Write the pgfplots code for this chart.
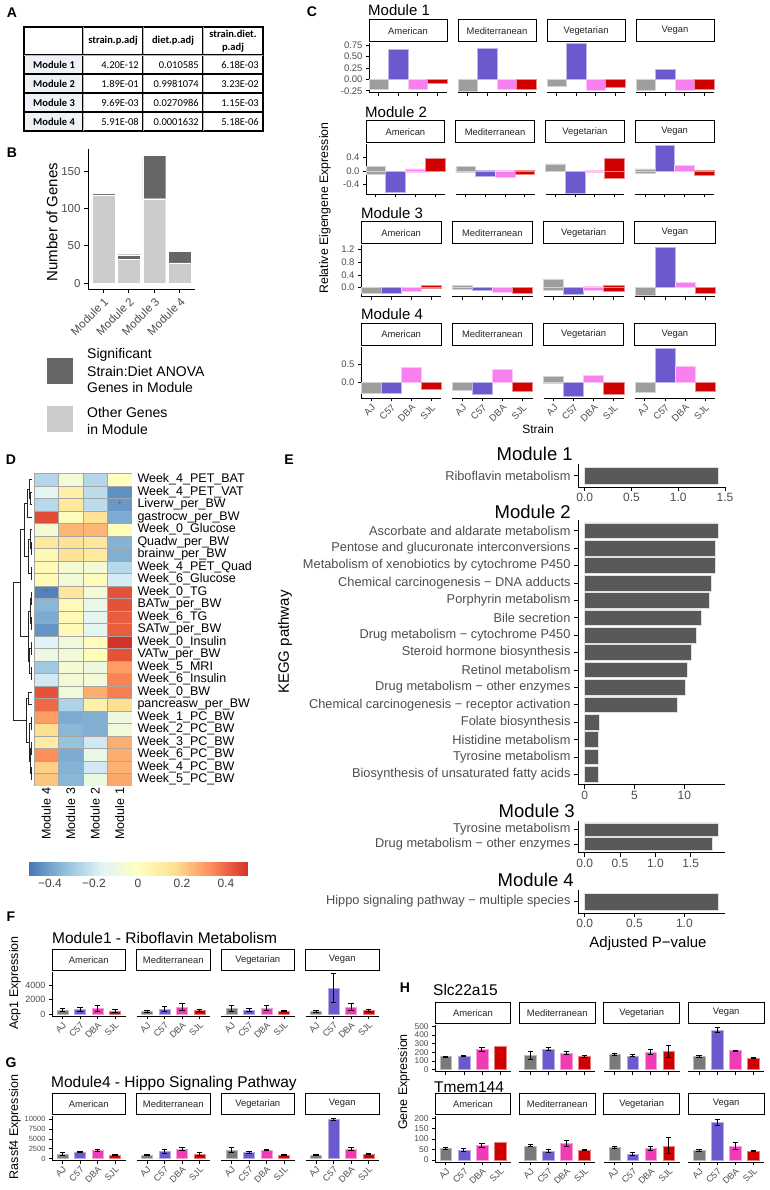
\documentclass[border=0pt]{standalone}
\usepackage{pgfplots}
\pgfplotsset{compat=1.18}
\usepackage{fontspec}
\setmainfont{Liberation Sans}
\newfontfamily\tabfont{Carlito}
\newcommand\fs[1]{\fontsize{#1}{#1}\selectfont}
\definecolor{cAJ}{HTML}{9E9E9E}
\definecolor{cC}{HTML}{6A5ACD}
\definecolor{cD}{HTML}{F77FEE}
\definecolor{cS}{HTML}{D00000}
\definecolor{fAJ}{HTML}{7A7A7A}
\definecolor{fD}{HTML}{F03CB4}
\definecolor{tickc}{HTML}{4D4D4D}
\definecolor{barE}{HTML}{595959}
\definecolor{lgray}{HTML}{CCCCCC}
\definecolor{dgray}{HTML}{666666}
\definecolor{tabbg}{HTML}{EEF1F5}

\pgfplotsset{
  every axis/.append style={scale only axis, scaled ticks=false},
  base/.style={axis line style={line width=0.8pt, black}, tick style={line width=0.7pt, black},
    tick align=outside, major tick length=3pt, axis x line*=bottom, axis y line*=left,
    every tick label/.append style={text=tickc, inner sep=0.8pt},
    y tick label style={xshift=-2.5pt}, x tick label style={yshift=-1.5pt}, clip=false},
  strip/.style={title style={draw=black, line width=0.8pt, fill=white, minimum width=#1,
    minimum height=21.5pt, inner sep=0pt, anchor=south, at={(0.5,1)}, yshift=-4.8pt,
    font=\fs{9.4}, text=black!85}},
  noy/.style={axis y line=none, ytick=\empty},
  cfac/.style={base, anchor=north west, xmin=0.5, xmax=4.5, xtick={1,2,3,4}, xticklabels={},
    every tick label/.append style={font=\fs{9.5}}},
  xlab/.style={xticklabels={AJ,C57,DBA,SJL}, x tick label style={rotate=45, anchor=north east, inner sep=0.5pt}},
  cb/.style={ybar, bar width=1, bar shift=0pt, fill=#1, draw=#1!45!white, line width=0.5pt},
  efac/.style={base, anchor=north west, xmin=0.4, xmax=4.6, xtick={1,2,3,4}, xticklabels={},
    every tick label/.append style={font=\fs{9}}},
  eb/.style={ybar, bar width=0.65, bar shift=0pt, fill=#1, draw=#1!50!white, line width=0.4pt,
    error bars/y dir=both, error bars/y explicit,
    error bars/error bar style={black, line width=0.9pt},
    error bars/error mark options={rotate=90, black, mark size=2.6pt, line width=0.9pt}},
  nb/.style={ybar, bar width=0.65, bar shift=0pt, fill=#1, draw=#1!50!white, line width=0.4pt},
  kegg/.style={base, anchor=north west, width=147pt, major tick length=4pt,
    y tick label style={font=\fs{12.8}}, x tick label style={font=\fs{12}}},
  kb/.style={xbar, bar width=0.9, bar shift=0pt, fill=barE, draw=black!12, line width=0.5pt},
  m1/.style={cfac, width=78pt, height=49.7pt, ymin=-0.293, ymax=0.80, strip=78pt},
  m1y/.style={ytick={-0.25,0,0.25,0.5,0.75}, yticklabels={-0.25,0.00,0.25,0.50,0.75}},
  m2/.style={cfac, width=78.75pt, height=50pt, ymin=-0.68, ymax=0.80, strip=78.75pt},
  m2y/.style={ytick={-0.4,0,0.4}, yticklabels={-0.4,0.0,0.4}},
  m3/.style={cfac, width=80.25pt, height=51.7pt, ymin=-0.28, ymax=1.33, strip=80.25pt},
  m3y/.style={ytick={0,0.4,0.8,1.2}, yticklabels={0.0,0.4,0.8,1.2}},
  m4/.style={cfac, width=80.25pt, height=51.6pt, ymin=-0.425, ymax=0.98, strip=80.25pt, xlab},
  m4y/.style={ytick={0,0.5}, yticklabels={0.0,0.5}},
  fst/.style={efac, width=73.5pt, height=44pt, ymin=-277, ymax=5827, strip=73.5pt, xlab},
  fy/.style={ytick={0,2000,4000}, yticklabels={0,2000,4000}},
  gst/.style={efac, width=73.5pt, height=44.5pt, ymin=-515, ymax=10815, strip=73.5pt, xlab},
  gy/.style={ytick={0,2500,5000,7500,10000}, yticklabels={0,2500,5000,7500,10000}, y tick label style={font=\fs{7.5}}},
  h1st/.style={efac, width=75.75pt, height=46.7pt, ymin=-25, ymax=515, strip=75.75pt},
  h1y/.style={ytick={0,100,200,300,400,500}, yticklabels={0,100,200,300,400,500}, y tick label style={font=\fs{8.3}}},
  h2st/.style={efac, width=75.75pt, height=46pt, ymin=-9.75, ymax=210, strip=75.75pt, xlab},
  h2y/.style={ytick={0,50,100,150,200}, yticklabels={0,50,100,150,200}, y tick label style={font=\fs{8.5}}},
}

\begin{document}
\begin{tikzpicture}[x=1pt,y=1pt]
\useasboundingbox (0,0) rectangle (769,-1190);

% ---------- panel letters ----------
\begin{scope}[every node/.style={font=\bfseries\fs{14}}]
\node at (12,-13) {A};
\node at (12,-153) {B};
\node at (312,-12) {C};
\node at (11,-460) {D};
\node at (289,-460) {E};
\node at (11,-917) {F};
\node at (11,-1063) {G};
\node at (405,-988) {H};
\end{scope}

% ---------- A: table ----------
\fill[tabbg] (24,-55) rectangle (83,-131);
\draw[line width=1.8pt] (24,-27) rectangle (263,-131);
\foreach \x in {83,143,203}{\draw[line width=1.8pt] (\x,-27) -- (\x,-131);
  \draw[gray!55,line width=0.5pt] (\x,-27) -- (\x,-131);}
\foreach \y in {55,74,93,112}{\draw[line width=1.4pt] (24,-\y) -- (263,-\y);}
\draw[gray!55, line width=0.5pt] (24,-55) -- (263,-55);
\begin{scope}[every node/.style={font=\tabfont\fs{10.5}, inner sep=0pt}]
\node[font=\tabfont\bfseries\fs{10.5}] at (113,-41) {strain.p.adj};
\node[font=\tabfont\bfseries\fs{10.5}] at (173,-41) {diet.p.adj};
\node[font=\tabfont\bfseries\fontsize{10.5}{12.5}\selectfont, align=center] at (233,-41) {strain.diet.\\p.adj};
\node[font=\tabfont\bfseries\fs{10.5}] at (54,-65) {Module 1};
\node[font=\tabfont\bfseries\fs{10.5}] at (54,-84) {Module 2};
\node[font=\tabfont\bfseries\fs{10.5}] at (54,-103) {Module 3};
\node[font=\tabfont\bfseries\fs{10.5}] at (54,-122) {Module 4};
\node[anchor=east] at (139,-65) {4.20E-12};
\node[anchor=east] at (199,-65) {0.010585};
\node[anchor=east] at (259,-65) {6.18E-03};
\node[anchor=east] at (139,-84) {1.89E-01};
\node[anchor=east] at (199,-84) {0.9981074};
\node[anchor=east] at (259,-84) {3.23E-02};
\node[anchor=east] at (139,-103) {9.69E-03};
\node[anchor=east] at (199,-103) {0.0270986};
\node[anchor=east] at (259,-103) {1.15E-03};
\node[anchor=east] at (139,-122) {5.91E-08};
\node[anchor=east] at (199,-122) {0.0001632};
\node[anchor=east] at (259,-122) {5.18E-06};
\end{scope}

% ---------- B ----------
\begin{axis}[base, at={(88pt,-149pt)}, anchor=north west, width=107pt, height=140.5pt,
  xmin=0.4, xmax=4.6, ymin=-8.55, ymax=179.6, ybar stacked, bar width=0.9,
  xtick={1,2,3,4}, xticklabels={Module 1,Module 2,Module 3,Module 4},
  x tick label style={rotate=45, anchor=north east, font=\fs{11.5}, inner sep=1pt},
  ytick={0,50,100,150}, yticklabels={0,50,100,150}, y tick label style={font=\fs{11.5}},
  major tick length=4pt, ylabel={Number of Genes},
  every axis y label/.style={at={(axis description cs:-0.336,0.48)}, rotate=90, anchor=center, font=\fs{15}}]
\addplot[fill=lgray, draw=white, line width=0.4pt] coordinates {(1,118) (2,32) (3,113) (4,27)};
\addplot[fill=dgray, draw=white, line width=0.4pt] coordinates {(1,2) (2,6) (3,58) (4,16)};
\end{axis}
\fill[dgray] (47,-358) rectangle (73,-384);
\fill[lgray] (47,-406) rectangle (73,-432);
\begin{scope}[every node/.style={anchor=west, inner sep=0pt, font=\fs{14}}]
\node at (87,-354.5) {Significant};
\node at (87,-371) {Strain:Diet ANOVA};
\node at (87,-387.5) {Genes in Module};
\node at (87,-412) {Other Genes};
\node at (87,-429) {in Module};
\end{scope}

% ---------- C ----------
\begin{scope}[every node/.style={anchor=west, inner sep=0pt, font=\fs{15}}]
\node at (368,-10) {Module 1};
\node at (365,-112) {Module 2};
\node at (361,-213) {Module 3};
\node at (361,-314) {Module 4};
\end{scope}
\node[rotate=90, font=\fs{12.3}] at (325,-208) {Relative Eigengene Expression};
\node[font=\fs{12}] at (538,-429) {Strain};

% Module 1
\begin{axis}[m1, m1y, at={(369pt,-43pt)}, title={American}]
\addplot[cb=cAJ] coordinates {(1,-0.22)};
\addplot[cb=cC] coordinates {(2,0.66)};
\addplot[cb=cD] coordinates {(3,-0.22)};
\addplot[cb=cS] coordinates {(4,-0.09)};
\end{axis}
\begin{axis}[m1, noy, at={(458pt,-43pt)}, title={Mediterranean}]
\addplot[cb=cAJ] coordinates {(1,-0.27)};
\addplot[cb=cC] coordinates {(2,0.69)};
\addplot[cb=cD] coordinates {(3,-0.22)};
\addplot[cb=cS] coordinates {(4,-0.22)};
\end{axis}
\begin{axis}[m1, noy, at={(547pt,-43pt)}, title={Vegetarian}]
\addplot[cb=cAJ] coordinates {(1,-0.15)};
\addplot[cb=cC] coordinates {(2,0.79)};
\addplot[cb=cD] coordinates {(3,-0.25)};
\addplot[cb=cS] coordinates {(4,-0.18)};
\end{axis}
\begin{axis}[m1, noy, at={(636pt,-43pt)}, title={Vegan}]
\addplot[cb=cAJ] coordinates {(1,-0.23)};
\addplot[cb=cC] coordinates {(2,0.23)};
\addplot[cb=cD] coordinates {(3,-0.25)};
\addplot[cb=cS] coordinates {(4,-0.21)};
\end{axis}
% Module 2
\begin{axis}[m2, m2y, at={(366pt,-144pt)}, title={American}]
\addplot[cb=cAJ] coordinates {(1,0.13) (1,-0.09)};
\addplot[cb=cC] coordinates {(2,-0.64)};
\addplot[cb=cD] coordinates {(3,0.06) (3,-0.05)};
\addplot[cb=cS] coordinates {(4,0.37) (4,-0.02)};
\end{axis}
\begin{axis}[m2, noy, at={(455.75pt,-144pt)}, title={Mediterranean}]
\addplot[cb=cAJ] coordinates {(1,0.13) (1,-0.05)};
\addplot[cb=cC] coordinates {(2,0.01) (2,-0.14)};
\addplot[cb=cD] coordinates {(3,0.01) (3,-0.17)};
\addplot[cb=cS] coordinates {(4,0.03) (4,-0.10)};
\end{axis}
\begin{axis}[m2, noy, at={(545.5pt,-144pt)}, title={Vegetarian}]
\addplot[cb=cAJ] coordinates {(1,0.21) (1,-0.02)};
\addplot[cb=cC] coordinates {(2,-0.66)};
\addplot[cb=cD] coordinates {(3,0.03) (3,-0.03)};
\addplot[cb=cS] coordinates {(4,0.37) (4,-0.20)};
\end{axis}
\begin{axis}[m2, noy, at={(635.25pt,-144pt)}, title={Vegan}]
\addplot[cb=cAJ] coordinates {(1,0.06) (1,-0.07)};
\addplot[cb=cC] coordinates {(2,0.75)};
\addplot[cb=cD] coordinates {(3,0.18)};
\addplot[cb=cS] coordinates {(4,0.01) (4,-0.12)};
\end{axis}
% Module 3
\begin{axis}[m3, m3y, at={(361pt,-245pt)}, title={American}]
\addplot[cb=cAJ] coordinates {(1,-0.18)};
\addplot[cb=cC] coordinates {(2,-0.18)};
\addplot[cb=cD] coordinates {(3,-0.10)};
\addplot[cb=cS] coordinates {(4,0.08) (4,-0.02)};
\end{axis}
\begin{axis}[m3, noy, at={(452.25pt,-245pt)}, title={Mediterranean}]
\addplot[cb=cAJ] coordinates {(1,0.08) (1,-0.04)};
\addplot[cb=cC] coordinates {(2,-0.07)};
\addplot[cb=cD] coordinates {(3,-0.15)};
\addplot[cb=cS] coordinates {(4,-0.17)};
\end{axis}
\begin{axis}[m3, noy, at={(543.5pt,-245pt)}, title={Vegetarian}]
\addplot[cb=cAJ] coordinates {(1,0.26) (1,-0.07)};
\addplot[cb=cC] coordinates {(2,-0.20)};
\addplot[cb=cD] coordinates {(3,0.05) (3,-0.09)};
\addplot[cb=cS] coordinates {(4,0.08) (4,-0.10)};
\end{axis}
\begin{axis}[m3, noy, at={(634.75pt,-245pt)}, title={Vegan}]
\addplot[cb=cAJ] coordinates {(1,-0.22)};
\addplot[cb=cC] coordinates {(2,1.25)};
\addplot[cb=cD] coordinates {(3,0.16)};
\addplot[cb=cS] coordinates {(4,-0.17)};
\end{axis}
% Module 4
\begin{axis}[m4, m4y, at={(361pt,-346.7pt)}, title={American}]
\addplot[cb=cAJ] coordinates {(1,-0.29)};
\addplot[cb=cC] coordinates {(2,-0.29)};
\addplot[cb=cD] coordinates {(3,0.41)};
\addplot[cb=cS] coordinates {(4,-0.17)};
\end{axis}
\begin{axis}[m4, noy, at={(452.25pt,-346.7pt)}, title={Mediterranean}]
\addplot[cb=cAJ] coordinates {(1,-0.20)};
\addplot[cb=cC] coordinates {(2,-0.31)};
\addplot[cb=cD] coordinates {(3,0.36)};
\addplot[cb=cS] coordinates {(4,-0.23)};
\end{axis}
\begin{axis}[m4, noy, at={(543.5pt,-346.7pt)}, title={Vegetarian}]
\addplot[cb=cAJ] coordinates {(1,0.18) (1,-0.02)};
\addplot[cb=cC] coordinates {(2,-0.38)};
\addplot[cb=cD] coordinates {(3,0.21)};
\addplot[cb=cS] coordinates {(4,-0.32)};
\end{axis}
\begin{axis}[m4, noy, at={(634.75pt,-346.7pt)}, title={Vegan}]
\addplot[cb=cAJ] coordinates {(1,-0.25)};
\addplot[cb=cC] coordinates {(2,0.94)};
\addplot[cb=cD] coordinates {(3,0.46)};
\addplot[cb=cS] coordinates {(4,-0.23)};
\end{axis}

% ---------- D ----------
\begin{axis}[at={(13pt,-473.3pt)}, anchor=north west, width=19pt, height=312.5pt,
  xmin=0, xmax=1, x dir=reverse, ymin=0.5, ymax=25.5, hide axis, clip=false]
\addplot[black!85, line width=0.6pt, unbounded coords=jump] coordinates {
(0,24)(0.08,24)(0.08,23)(0,23) (nan,nan)
(0,25)(0.15,25)(0.15,23.5)(0.08,23.5) (nan,nan)
(0.15,24.25)(0.25,24.25)(0.25,22)(0,22) (nan,nan)
(0,20)(0.04,20)(0.04,19)(0,19) (nan,nan)
(0,21)(0.1,21)(0.1,19.5)(0.04,19.5) (nan,nan)
(0,18)(0.06,18)(0.06,17)(0,17) (nan,nan)
(0.1,20.25)(0.18,20.25)(0.18,17.5)(0.06,17.5) (nan,nan)
(0.25,23.125)(0.4,23.125)(0.4,18.875)(0.18,18.875) (nan,nan)
(0,16)(0.04,16)(0.04,15)(0,15) (nan,nan)
(0,14)(0.04,14)(0.04,13)(0,13) (nan,nan)
(0.04,15.5)(0.1,15.5)(0.1,13.5)(0.04,13.5) (nan,nan)
(0,12)(0.05,12)(0.05,11)(0,11) (nan,nan)
(0,10)(0.06,10)(0.06,9)(0,9) (nan,nan)
(0.05,11.5)(0.12,11.5)(0.12,9.5)(0.06,9.5) (nan,nan)
(0.1,14.5)(0.22,14.5)(0.22,10.5)(0.12,10.5) (nan,nan)
(0.4,21)(0.6,21)(0.6,12.5)(0.22,12.5) (nan,nan)
(0,8)(0.2,8)(0.2,7)(0,7) (nan,nan)
(0,6)(0.05,6)(0.05,5)(0,5) (nan,nan)
(0,4)(0.04,4)(0.04,3)(0,3) (nan,nan)
(0,2)(0.03,2)(0.03,1)(0,1) (nan,nan)
(0.04,3.5)(0.08,3.5)(0.08,1.5)(0.03,1.5) (nan,nan)
(0.05,5.5)(0.12,5.5)(0.12,2.5)(0.08,2.5) (nan,nan)
(0.2,7.5)(0.3,7.5)(0.3,4)(0.12,4) (nan,nan)
(0.6,16.75)(1,16.75)(1,5.75)(0.3,5.75)
};
\end{axis}

\begin{axis}[at={(34pt,-473.3pt)}, anchor=north west, width=98pt, height=312.5pt,
  xmin=0.5, xmax=4.5, ymin=0.5, ymax=25.5,
  axis line style={draw=none}, tick style={draw=none}, major tick length=0pt,
  xtick={1,2,3,4}, xticklabels={Module 4,Module 3,Module 2,Module 1},
  x tick label style={rotate=90, anchor=east, font=\fs{12.5}, inner sep=2pt},
  ytick={1,...,25}, yticklabel pos=right,
  yticklabels={Week\_5\_PC\_BW,Week\_4\_PC\_BW,Week\_6\_PC\_BW,Week\_3\_PC\_BW,Week\_2\_PC\_BW,Week\_1\_PC\_BW,pancreasw\_per\_BW,Week\_0\_BW,Week\_6\_Insulin,Week\_5\_MRI,VATw\_per\_BW,Week\_0\_Insulin,SATw\_per\_BW,Week\_6\_TG,BATw\_per\_BW,Week\_0\_TG,Week\_6\_Glucose,Week\_4\_PET\_Quad,brainw\_per\_BW,Quadw\_per\_BW,Week\_0\_Glucose,gastrocw\_per\_BW,Liverw\_per\_BW,Week\_4\_PET\_VAT,Week\_4\_PET\_BAT},
  y tick label style={anchor=west, font=\fs{12.5}, inner sep=0.3pt, xshift=5pt},
  colormap={rdylbu}{rgb255=(69,117,180) rgb255=(145,191,219) rgb255=(224,243,248) rgb255=(255,255,191) rgb255=(254,224,144) rgb255=(252,141,89) rgb255=(215,48,39)},
  point meta min=-0.5, point meta max=0.5,
  colorbar horizontal,
  colorbar style={at={(parent axis.south west)}, anchor=north west, xshift=-6pt, yshift=-68pt,
    width=220pt, height=13pt, xtick={-0.4,-0.2,0,0.2,0.4}, xticklabels={−0.4,−0.2,0,0.2,0.4},
    axis line style={draw=none}, major tick length=0pt, x tick label style={font=\fs{12}, text=black!75}}]
\addplot[matrix plot*, mesh/cols=4, mesh/rows=25, point meta=explicit, shader=faceted, faceted color=black!35, line width=0.6pt] table[meta=c] {
x y c
1 1 0.22
2 1 -0.35
3 1 -0.10
4 1 0.28
1 2 0.20
2 2 -0.36
3 2 -0.20
4 2 0.26
1 3 0.33
2 3 -0.38
3 3 -0.12
4 3 0.27
1 4 0.10
2 4 -0.32
3 4 -0.20
4 4 0.27
1 5 0.17
2 5 -0.35
3 5 -0.37
4 5 -0.08
1 6 0.30
2 6 -0.38
3 6 -0.37
4 6 -0.10
1 7 0.40
2 7 -0.27
3 7 0.08
4 7 0.17
1 8 0.44
2 8 -0.08
3 8 0.27
4 8 0.36
1 9 -0.20
2 9 -0.06
3 9 -0.07
4 9 0.35
1 10 -0.30
2 10 -0.06
3 10 -0.09
4 10 0.30
1 11 -0.10
2 11 -0.08
3 11 0.02
4 11 0.44
1 12 -0.16
2 12 -0.08
3 12 0.02
4 12 0.50
1 13 -0.43
2 13 0.03
3 13 -0.14
4 13 0.42
1 14 -0.38
2 14 0.03
3 14 -0.14
4 14 0.42
1 15 -0.35
2 15 0.03
3 15 -0.12
4 15 0.44
1 16 -0.47
2 16 0.13
3 16 -0.07
4 16 0.44
1 17 0.03
2 17 -0.06
3 17 0.02
4 17 -0.19
1 18 0.03
2 18 -0.06
3 18 -0.06
4 18 -0.25
1 19 0.04
2 19 0.15
3 19 0.12
4 19 -0.37
1 20 0.12
2 20 0.15
3 20 0.13
4 20 -0.36
1 21 -0.06
2 21 0.25
3 21 0.25
4 21 0.02
1 22 0.45
2 22 0.02
3 22 0.15
4 22 -0.38
1 23 -0.25
2 23 0.12
3 23 -0.24
4 23 -0.42
1 24 -0.15
2 24 0.08
3 24 -0.24
4 24 -0.44
1 25 -0.26
2 25 -0.07
3 25 -0.26
4 25 0.00
};
\node[font=\fs{9}, text=black!60] at (axis cs:4,23) {*};
\node[font=\fs{9}, text=black!60] at (axis cs:1,16) {*};
\node[font=\fs{9}, text=black!60] at (axis cs:4,12) {*};
\end{axis}

% ---------- E ----------
\begin{scope}[every node/.style={anchor=east, inner sep=0pt, font=\fs{18.5}}]
\node at (573,-454) {Module 1};
\node at (571,-512) {Module 2};
\node at (575,-811) {Module 3};
\node at (574,-880) {Module 4};
\end{scope}
\node[rotate=90, font=\fs{15}] at (285,-642) {KEGG pathway};
\node[font=\fs{15}] at (648,-944) {Adjusted P−value};

\begin{axis}[kegg, at={(578pt,-464pt)}, height=23pt, xmin=-0.0715, xmax=1.50, ymin=0.4, ymax=1.6,
  ytick={1}, yticklabels={Riboflavin metabolism}, xtick={0,0.5,1,1.5}, xticklabels={0.0,0.5,1.0,1.5}]
\addplot[kb] coordinates {(1.43,1)};
\end{axis}
\begin{axis}[kegg, at={(578pt,-520.3pt)}, height=264.4pt, xmin=-0.67, xmax=14.07, ymin=0.4, ymax=15.6,
  ytick={1,...,15}, yticklabels={Biosynthesis of unsaturated fatty acids,Tyrosine metabolism,Histidine metabolism,Folate biosynthesis,Chemical carcinogenesis − receptor activation,Drug metabolism − other enzymes,Retinol metabolism,Steroid hormone biosynthesis,Drug metabolism − cytochrome P450,Bile secretion,Porphyrin metabolism,Chemical carcinogenesis − DNA adducts,Metabolism of xenobiotics by cytochrome P450,Pentose and glucuronate interconversions,Ascorbate and aldarate metabolism},
  xtick={0,5,10}, xticklabels={0,5,10}]
\addplot[kb] coordinates {(1.33,1) (1.33,2) (1.4,3) (1.5,4) (9.3,5) (10.07,6) (10.33,7) (10.7,8) (11.17,9) (11.67,10) (12.5,11) (12.7,12) (13.07,13) (13.1,14) (13.4,15)};
\end{axis}
\begin{axis}[kegg, at={(578pt,-820.8pt)}, height=32pt, xmin=-0.0945, xmax=1.985, ymin=0.4, ymax=2.6,
  ytick={1,2}, yticklabels={Drug metabolism − other enzymes,Tyrosine metabolism},
  xtick={0,0.5,1,1.5,2}, xticklabels={0.0,0.5,1.0,1.5,2.0}]
\addplot[kb] coordinates {(1.81,1) (1.89,2)};
\end{axis}
\begin{axis}[kegg, at={(578pt,-890pt)}, height=23pt, xmin=-0.067, xmax=1.407, ymin=0.4, ymax=1.6,
  ytick={1}, yticklabels={Hippo signaling pathway − multiple species},
  xtick={0,0.5,1}, xticklabels={0.0,0.5,1.0}]
\addplot[kb] coordinates {(1.34,1)};
\end{axis}

% ---------- F, G, H titles ----------
\begin{scope}[every node/.style={anchor=west, inner sep=0pt, font=\fs{15.5}}]
\node at (52,-938) {Module1 - Riboflavin Metabolism};
\node at (51,-1083) {Module4 - Hippo Signaling Pathway};
\node at (433,-990) {Slc22a15};
\node at (434,-1087) {Tmem144};
\end{scope}
\node[rotate=90, font=\fs{12.5}] at (15,-983) {Acp1 Expression};
\node[rotate=90, font=\fs{12.5}] at (15,-1127) {Rassf4 Expression};
\node[rotate=90, font=\fs{12.5}] at (404,-1082) {Gene Expression};

\begin{axis}[fst, fy, at={(52pt,-972pt)}, title={American}]
\addplot[eb=fAJ] coordinates {(1,550) +- (0,250)};
\addplot[eb=cC] coordinates {(2,620) +- (0,300)};
\addplot[eb=fD] coordinates {(3,800) +- (0,400)};
\addplot[eb=cS] coordinates {(4,450) +- (0,250)};
\end{axis}
\begin{axis}[fst, noy, at={(136.5pt,-972pt)}, title={Mediterranean}]
\addplot[eb=fAJ] coordinates {(1,400) +- (0,150)};
\addplot[eb=cC] coordinates {(2,700) +- (0,350)};
\addplot[eb=fD] coordinates {(3,950) +- (0,450)};
\addplot[eb=cS] coordinates {(4,500) +- (0,200)};
\end{axis}
\begin{axis}[fst, noy, at={(221pt,-972pt)}, title={Vegetarian}]
\addplot[eb=fAJ] coordinates {(1,800) +- (0,400)};
\addplot[eb=cC] coordinates {(2,550) +- (0,250)};
\addplot[eb=fD] coordinates {(3,800) +- (0,350)};
\addplot[eb=cS] coordinates {(4,400) +- (0,100)};
\end{axis}
\begin{axis}[fst, noy, at={(305.5pt,-972pt)}, title={Vegan}]
\addplot[eb=fAJ] coordinates {(1,400) +- (0,150)};
\addplot[eb=cC] coordinates {(2,3600) +- (0,2000)};
\addplot[eb=fD] coordinates {(3,950) +- (0,450)};
\addplot[eb=cS] coordinates {(4,500) +- (0,150)};
\end{axis}

% ---------- G ----------
\begin{axis}[gst, gy, at={(52pt,-1116pt)}, title={American}]
\addplot[eb=fAJ] coordinates {(1,1200) +- (0,400)};
\addplot[eb=cC] coordinates {(2,1600) +- (0,150)};
\addplot[eb=fD] coordinates {(3,2100) +- (0,200)};
\addplot[eb=cS] coordinates {(4,950) +- (0,50)};
\end{axis}
\begin{axis}[gst, noy, at={(136.5pt,-1116pt)}, title={Mediterranean}]
\addplot[eb=fAJ] coordinates {(1,950) +- (0,150)};
\addplot[eb=cC] coordinates {(2,1900) +- (0,500)};
\addplot[eb=fD] coordinates {(3,2400) +- (0,300)};
\addplot[eb=cS] coordinates {(4,1200) +- (0,300)};
\end{axis}
\begin{axis}[gst, noy, at={(221pt,-1116pt)}, title={Vegetarian}]
\addplot[eb=fAJ] coordinates {(1,2200) +- (0,600)};
\addplot[eb=cC] coordinates {(2,1500) +- (0,200)};
\addplot[eb=fD] coordinates {(3,2100) +- (0,150)};
\addplot[eb=cS] coordinates {(4,950) +- (0,100)};
\end{axis}
\begin{axis}[gst, noy, at={(305.5pt,-1116pt)}, title={Vegan}]
\addplot[eb=fAJ] coordinates {(1,950) +- (0,100)};
\addplot[eb=cC] coordinates {(2,10000) +- (0,300)};
\addplot[eb=fD] coordinates {(3,2400) +- (0,300)};
\addplot[eb=cS] coordinates {(4,1150) +- (0,200)};
\end{axis}

% ---------- H ----------
\begin{axis}[h1st, h1y, at={(435pt,-1025pt)}, title={American}]
\addplot[eb=fAJ] coordinates {(1,150) +- (0,5)};
\addplot[eb=cC] coordinates {(2,155) +- (0,5)};
\addplot[eb=fD] coordinates {(3,230) +- (0,20)};
\addplot[nb=cS] coordinates {(4,270)};
\end{axis}
\begin{axis}[h1st, noy, at={(519.42pt,-1025pt)}, title={Mediterranean}]
\addplot[eb=fAJ] coordinates {(1,165) +- (0,45)};
\addplot[eb=cC] coordinates {(2,235) +- (0,15)};
\addplot[eb=fD] coordinates {(3,190) +- (0,20)};
\addplot[eb=cS] coordinates {(4,150) +- (0,10)};
\end{axis}
\begin{axis}[h1st, noy, at={(603.84pt,-1025pt)}, title={Vegetarian}]
\addplot[eb=fAJ] coordinates {(1,175) +- (0,15)};
\addplot[eb=cC] coordinates {(2,160) +- (0,10)};
\addplot[eb=fD] coordinates {(3,205) +- (0,25)};
\addplot[eb=cS] coordinates {(4,210) +- (0,70)};
\end{axis}
\begin{axis}[h1st, noy, at={(688.26pt,-1025pt)}, title={Vegan}]
\addplot[eb=fAJ] coordinates {(1,150) +- (0,15)};
\addplot[eb=cC] coordinates {(2,460) +- (0,30)};
\addplot[eb=fD] coordinates {(3,220) +- (0,5)};
\addplot[eb=cS] coordinates {(4,135) +- (0,5)};
\end{axis}
\begin{axis}[h2st, h2y, at={(435pt,-1116pt)}, title={American}]
\addplot[eb=fAJ] coordinates {(1,55) +- (0,7)};
\addplot[eb=cC] coordinates {(2,48) +- (0,5)};
\addplot[eb=fD] coordinates {(3,70) +- (0,10)};
\addplot[nb=cS] coordinates {(4,83)};
\end{axis}
\begin{axis}[h2st, noy, at={(519.42pt,-1116pt)}, title={Mediterranean}]
\addplot[eb=fAJ] coordinates {(1,68) +- (0,4)};
\addplot[eb=cC] coordinates {(2,42) +- (0,8)};
\addplot[eb=fD] coordinates {(3,78) +- (0,13)};
\addplot[eb=cS] coordinates {(4,48) +- (0,3)};
\end{axis}
\begin{axis}[h2st, noy, at={(603.84pt,-1116pt)}, title={Vegetarian}]
\addplot[eb=fAJ] coordinates {(1,60) +- (0,5)};
\addplot[eb=cC] coordinates {(2,28) +- (0,6)};
\addplot[eb=fD] coordinates {(3,55) +- (0,10)};
\addplot[eb=cS] coordinates {(4,68) +- (0,38)};
\end{axis}
\begin{axis}[h2st, noy, at={(688.26pt,-1116pt)}, title={Vegan}]
\addplot[eb=fAJ] coordinates {(1,47) +- (0,5)};
\addplot[eb=cC] coordinates {(2,180) +- (0,15)};
\addplot[eb=fD] coordinates {(3,67) +- (0,15)};
\addplot[eb=cS] coordinates {(4,43) +- (0,2)};
\end{axis}
\end{tikzpicture}
\end{document}
